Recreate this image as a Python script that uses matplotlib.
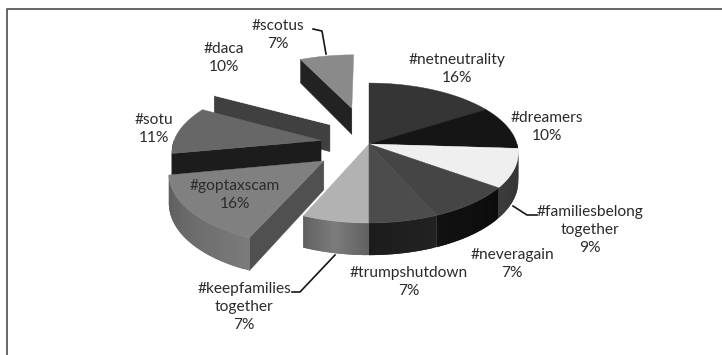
import numpy as np
import matplotlib
matplotlib.use("Agg")
import matplotlib.pyplot as plt
from matplotlib.patches import Polygon

plt.rcParams['font.family'] = ['Lato', 'DejaVu Sans']

labels = ["#netneutrality", "#dreamers", "#familiesbelong\ntogether", "#neveragain",
          "#trumpshutdown", "#keepfamilies\ntogether", "#goptaxscam", "#sotu", "#daca", "#scotus"]
pct_labels = [16, 10, 9, 7, 7, 7, 16, 11, 10, 7]
# slice sizes as they are drawn in the picture (slightly off the printed percentages)
drawn_shares = [16, 10, 9, 8.4, 6.6, 6.4, 15.6, 11, 10, 7]

explode = [0, 0, 0, 0, 0, 0, 0.38, 0.33, 0.40, 0.57]
top_col = ["#353535", "#151515", "#efefef", "#454545", "#4c4c4c", "#b2b2b2", "#808080", "#676767", "#ffffff", "#8a8a8a"]
side_a = ["#333333", "#222222", "#3c3c3c", "#111111", "#1c1c1c", "#626262", "#5c5c5c", "#1c1c1c", "#404040", "#222222"]
side_b = ["#333333", "#222222", "#303030", "#0c0c0c", "#222222", "#7c7c7c", "#7a7a7a", "#1c1c1c", "#404040", "#222222"]
cut_col = [None, None, None, None, None, None, "#505050", "#1c1c1c", "#404040", "#222222"]
label_xy = [(457, 69), (547, 127), (590, 230), (512, 264), (409, 282), (244, 307),
            (235, 195), (154, 129), (224, 58), (278, 35)]
draw_order = [8, 9, 0, 1, 2, 7, 6, 5, 4, 3]

CX, CY, R, RY, K, DEPTH = 369, 144, 148, 68.8, 0.129, 28


def project(u, v, z=0.0):
    f = 1.0 / (1.0 - K * v)
    return CX + R * u * f, CY + RY * v * f + z * DEPTH * f


def disk(theta, r, off, mid):
    u = r * np.sin(theta) + off * np.sin(mid)
    v = -r * np.cos(theta) - off * np.cos(mid)
    return u, v


fig = plt.figure(figsize=(7.22, 3.55), dpi=100)
ax = fig.add_axes([0, 0, 1, 1])
ax.set_xlim(0, 722)
ax.set_ylim(355, 0)
ax.axis("off")
ax.plot([6.5, 6.5, 722], [355, 8.5, 8.5], color="#5a5a5a", lw=1.3, zorder=1)

edges = np.deg2rad(np.cumsum([0] + drawn_shares) * 3.6)
for i in draw_order:
    a, b = edges[i], edges[i + 1]
    mid = (a + b) / 2
    off = explode[i]
    if cut_col[i]:
        u0, v0 = disk(a, 0, off, mid)
        u1, v1 = disk(a, 1, off, mid)
        pts = [project(u0, v0), project(u1, v1), project(u1, v1, 1), project(u0, v0, 1)]
        ax.add_patch(Polygon(pts, fc=cut_col[i], ec=cut_col[i], lw=0.3, zorder=2))
    lo, hi = max(a, np.pi / 2), min(b, 3 * np.pi / 2)
    if hi > lo:
        ts = np.linspace(lo, hi, 25)
        ca = np.array(matplotlib.colors.to_rgb(side_a[i]))
        cb = np.array(matplotlib.colors.to_rgb(side_b[i]))
        for j in range(24):
            u0, v0 = disk(ts[j], 1, off, mid)
            u1, v1 = disk(ts[min(j + 2, 24)], 1, off, mid)
            c = ca + (cb - ca) * (1 - abs(2 * j / 23 - 1) if i == 5 else 1 - j / 23)
            pts = [project(u0, v0), project(u1, v1), project(u1, v1, 1), project(u0, v0, 1)]
            ax.add_patch(Polygon(pts, fc=c, ec="none", zorder=2))
    ts = np.linspace(a, b, 60)
    pts = [project(*disk(0, 0, off, mid))] + [project(*disk(t, 1, off, mid)) for t in ts]
    ax.add_patch(Polygon(pts, fc=top_col[i], ec=top_col[i], lw=0.3, zorder=2))

for lab, val, (x, y) in zip(labels, pct_labels, label_xy):
    ax.text(x, y, f"{lab}\n{val}%", ha="center", va="center", fontsize=11.2,
            color="#2b2b2b", linespacing=1.35, zorder=5)

ax.plot([313, 322, 326], [29, 31, 54], color="#151515", lw=1.2, zorder=4)
ax.plot([513, 527, 537], [206, 215, 215], color="#151515", lw=1.2, zorder=4)
ax.plot([292, 300, 335], [292, 292, 255], color="#151515", lw=1.2, zorder=4)

fig.savefig("out.png", dpi=100, facecolor="white")
